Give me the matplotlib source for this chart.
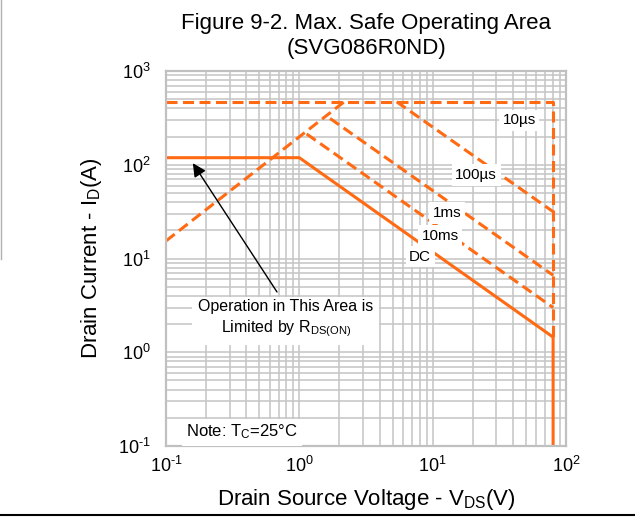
import matplotlib.pyplot as plt
from matplotlib.lines import Line2D
from matplotlib.ticker import FixedLocator, FixedFormatter

plt.rcParams['font.family'] = ['Liberation Sans', 'DejaVu Sans']
plt.rcParams['mathtext.fontset'] = 'custom'
plt.rcParams['mathtext.rm'] = 'Liberation Sans'
plt.rcParams['mathtext.it'] = 'Liberation Sans'
plt.rcParams['axes.unicode_minus'] = False

# ============================================================
# Data (V in volts, I in amps)
# ============================================================
# DC limit: flat at the package limit, then power limited, then BVdss wall
DC_V = [0.1, 1.0, 80, 80]
DC_I = [119, 119, 1.45, 0.1]

# Rds(on) limit line (dashed)
RDS_V = [0.1, 2.17]
RDS_I = [15.4, 470]

# pulsed current ceiling and voltage wall (dashed)
ENV_V = [0.1, 80, 80]
ENV_I = [470, 470, 1.45]

# single pulse lines
P10US_V = [5.37, 80]
P10US_I = [470, 31.6]
P100US_V = [1.70, 80]
P100US_I = [312, 6.63]
P1MS_V = [1.135, 80]
P1MS_I = [213, 3.0]

# curve labels
LABELS = ["10µs", "100µs", "1ms", "10ms", "DC"]
LABEL_V = [44.5, 21.2, 12.8, 11.4, 8.04]
LABEL_I = [300, 77.8, 30.6, 17.4, 10.4]

# Rds(on) note and arrow
NOTE_V, NOTE_I = 0.79, 2.25
ARROW_TAIL = (0.68, 4.4)
ARROW_HEAD = (0.159, 104)

# decade ticks
X_TICKS = [0.1, 1, 10, 100]
X_EXP = ["-1", "0", "1", "2"]
Y_TICKS = [0.1, 1, 10, 100, 1000]
Y_EXP = ["-1", "0", "1", "2", "3"]

ORANGE = "#ff6a13"
GRID = "#c4c4c4"


def dec_labels(exps):
    return ["10$^{\\text{%s}}$" % e for e in exps]


# ============================================================
# Plot
# ============================================================
fig = plt.figure(figsize=(6.35, 5.17), dpi=100)
ax = fig.add_axes([0.2614, 0.1373, 0.630, 0.7253])
ax.set_xscale("log")
ax.set_yscale("log")
ax.set_xlim(0.1, 100)
ax.set_ylim(0.1, 1000)
ax.xaxis.set_major_locator(FixedLocator(X_TICKS))
ax.xaxis.set_major_formatter(FixedFormatter(dec_labels(X_EXP)))
ax.yaxis.set_major_locator(FixedLocator(Y_TICKS))
ax.yaxis.set_major_formatter(FixedFormatter(dec_labels(Y_EXP)))

ax.grid(True, which="both", color=GRID, linewidth=1.1)
ax.set_axisbelow(True)
for sp in ax.spines.values():
    sp.set_color("#c0c0c0")
    sp.set_linewidth(1.6)
ax.tick_params(which="both", length=0, labelsize=13)
ax.tick_params(axis="x", pad=7)
ax.tick_params(axis="y", pad=11)

dash = dict(color=ORANGE, linewidth=2.2, linestyle=(0, (3.6, 1.8)))
ax.plot(ENV_V, ENV_I, **dash)
ax.plot(RDS_V, RDS_I, **dash)
ax.plot(P10US_V, P10US_I, **dash)
ax.plot(P100US_V, P100US_I, **dash)
ax.plot(P1MS_V, P1MS_I, **dash)
ax.plot(DC_V, DC_I, color=ORANGE, linewidth=2.2)

box = dict(facecolor="white", edgecolor="none", pad=2.5)
for lab, v, i in zip(LABELS, LABEL_V, LABEL_I):
    ax.text(v, i, lab, fontsize=11, ha="center", va="center", bbox=box)

ax.annotate("", xy=ARROW_HEAD, xytext=ARROW_TAIL,
            arrowprops=dict(arrowstyle="-|>", color="black", lw=1.0,
                            mutation_scale=20, shrinkA=0, shrinkB=0))
ax.text(NOTE_V, NOTE_I, "Operation in This Area is\nLimited by R$_{\\mathregular{DS(ON)}}$",
        fontsize=11.5, ha="center", va="center", linespacing=1.3,
        bbox=dict(facecolor="white", edgecolor="none", pad=4))

ax.text(0.141, 0.141, "Note: T$_{\\mathregular{C}}$=25°C", fontsize=12,
        ha="left", va="center",
        bbox=dict(facecolor="white", edgecolor="none", pad=3))

ax.set_title("Figure 9-2. Max. Safe Operating Area\n(SVG086R0ND)",
             fontsize=16, pad=12, linespacing=1.25)
ax.set_xlabel("Drain Source Voltage - V$_{\\mathregular{DS}}$(V)", fontsize=16, labelpad=8)
ax.set_ylabel("Drain Current - I$_{\\mathregular{D}}$(A)", fontsize=16, labelpad=10)

# screenshot borders
fig.add_artist(Line2D([0, 1], [0.004, 0.004], color="black", linewidth=1.5))
fig.add_artist(Line2D([0.001, 0.001], [0.5, 1], color="#b0b0b0", linewidth=1.0))

fig.savefig("out.png", dpi=100)
